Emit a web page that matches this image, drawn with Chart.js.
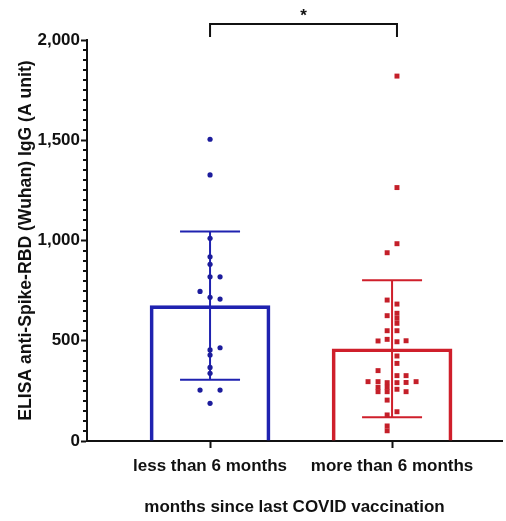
<!DOCTYPE html>
<html>
<head>
<meta charset="utf-8">
<script src="https://cdn.jsdelivr.net/npm/chart.js@4"></script>
<style>
html, body { margin: 0; padding: 0; background: #fff; }
#wrap { width: 506px; height: 521px; }
</style>
</head>
<body>
<div id="wrap"><canvas id="chart"></canvas></div>
<script>
const groupLabels = ['less than 6 months', 'more than 6 months']
const groupMeans = [675, 460]
const groupSD = [370, 342]
const groupColors = ['#1f22b0', '#cf1f2b']

// less than 6 months: value, jitter (x offset in category units)
const lessValues = [1505, 1327, 1011, 919, 881, 819, 819, 746, 717, 708, 465, 454, 429, 367, 338, 254, 254, 188]
const lessJitter = [0, 0, 0, 0, 0, 0, 0.055, -0.055, 0, 0.055, 0.055, 0, 0, 0, 0, -0.055, 0.055, 0]

// more than 6 months
const moreValues = [1820, 1264, 984, 939, 703, 683, 625, 637, 612, 587, 550, 550, 499, 507, 495, 500, 424, 387, 351, 326, 326,
    296, 296, 291, 291, 292, 296, 268, 268, 258, 246, 246, 246, 204, 130, 146, 75, 51]
const moreJitter = [0.027, 0.027, 0.027, -0.027, -0.027, 0.027, -0.027, 0.027, 0.027, 0.027, -0.027, 0.027, -0.077, -0.027, 0.027, 0.077, 0.027, 0.027, -0.077, 0.027, 0.077,
    -0.132, -0.077, -0.027, 0.027, 0.077, 0.132, -0.077, -0.027, 0.027, 0.077, -0.077, -0.027, -0.027, -0.027, 0.027, -0.027, -0.027]

const yTicks = [0, 500, 1000, 1500, 2000]
const minorStep = 50
const significance = '*'
const bracketX = [0, 1.027]
const bracketY = [2015, 2080]

const fontFam = '"Liberation Sans", Arial, sans-serif'
const toPoints = (vals, jit, g) => vals.map((v, i) => ({ x: g + jit[i], y: v }))

// error bars (mean +/- SD) drawn right after the bars
const errorBars = {
    id: 'errorBars',
    afterDatasetDraw(chart, args) {
        if (args.index !== 0) return
        const ctx = chart.ctx, xs = chart.scales.x, ys = chart.scales.y
        const capHalf = 30
        ctx.save()
        ctx.lineWidth = 2
        groupMeans.forEach((m, i) => {
            const x = xs.getPixelForValue(i)
            const top = ys.getPixelForValue(m + groupSD[i])
            const bot = ys.getPixelForValue(m - groupSD[i])
            ctx.strokeStyle = groupColors[i]
            ctx.beginPath()
            ctx.moveTo(x, top); ctx.lineTo(x, bot)
            ctx.moveTo(x - capHalf, top); ctx.lineTo(x + capHalf, top)
            ctx.moveTo(x - capHalf, bot); ctx.lineTo(x + capHalf, bot)
            ctx.stroke()
        })
        ctx.restore()
    }
}

// minor y ticks and significance bracket
const extras = {
    id: 'extras',
    afterDraw(chart) {
        const ctx = chart.ctx, xs = chart.scales.x, ys = chart.scales.y
        ctx.save()
        ctx.strokeStyle = '#111'
        ctx.lineWidth = 2
        ctx.beginPath()
        for (let v = 0; v <= ys.max; v += minorStep) {
            if (v % 500 === 0) continue
            const y = Math.round(ys.getPixelForValue(v))
            ctx.moveTo(ys.right - 4, y); ctx.lineTo(ys.right, y)
        }
        ctx.stroke()

        const x1 = xs.getPixelForValue(bracketX[0]), x2 = xs.getPixelForValue(bracketX[1])
        const yb = ys.getPixelForValue(bracketY[0]), yt = ys.getPixelForValue(bracketY[1])
        ctx.beginPath()
        ctx.moveTo(x1, yb); ctx.lineTo(x1, yt); ctx.lineTo(x2, yt); ctx.lineTo(x2, yb)
        ctx.stroke()
        ctx.fillStyle = '#111'
        ctx.font = 'bold 17px ' + fontFam
        ctx.textAlign = 'center'
        ctx.textBaseline = 'alphabetic'
        ctx.fillText(significance, (x1 + x2) / 2, yt - 3)
        ctx.restore()
    }
}

new Chart(document.getElementById('chart'), {
    type: 'bar',
    data: {
        datasets: [
            {
                type: 'bar',
                data: groupMeans.map((m, i) => ({ x: i, y: m })),
                borderColor: groupColors,
                backgroundColor: 'rgba(0,0,0,0)',
                borderWidth: 3,
                barThickness: 120,
                order: 3
            },
            {
                type: 'scatter',
                data: toPoints(lessValues, lessJitter, 0),
                pointStyle: 'circle',
                pointRadius: 2.6,
                pointBorderWidth: 0,
                backgroundColor: '#1c1c9c',
                order: 1
            },
            {
                type: 'scatter',
                data: toPoints(moreValues, moreJitter, 1),
                pointStyle: 'rect',
                pointRadius: 3.5,
                pointBorderWidth: 0,
                backgroundColor: '#c41f29',
                order: 1
            }
        ]
    },
    options: {
        responsive: true,
        maintainAspectRatio: false,
        animation: false,
        layout: { padding: { left: 12, top: 40, right: 0, bottom: 0 } },
        plugins: { legend: { display: false }, tooltip: { enabled: false } },
        scales: {
            x: {
                type: 'linear',
                offset: false,
                min: -0.676,
                max: 1.604,
                afterBuildTicks: s => { s.ticks = groupLabels.map((l, i) => ({ value: i })) },
                afterFit: s => { s.height = 80 },
                grid: { offset: false, drawOnChartArea: false, tickLength: 7, color: '#111', tickWidth: 2 },
                border: { color: '#111', width: 2 },
                ticks: {
                    callback: v => groupLabels[v] ?? '',
                    color: '#111',
                    font: { family: fontFam, size: 17, weight: 'bold' },
                    padding: 8,
                    maxRotation: 0,
                    autoSkip: false
                },
                title: {
                    display: true,
                    text: 'months since last COVID vaccination',
                    color: '#111',
                    font: { family: fontFam, size: 17, weight: 'bold' },
                    padding: { top: 10, bottom: 3 }
                }
            },
            y: {
                min: 0,
                max: 2000,
                afterBuildTicks: s => { s.ticks = yTicks.map(v => ({ value: v })) },
                afterFit: s => { s.width = 75 },
                grid: { drawOnChartArea: false, tickLength: 6, color: '#111', tickWidth: 2 },
                border: { color: '#111', width: 2 },
                ticks: {
                    callback: v => v.toLocaleString('en-US'),
                    color: '#111',
                    font: { family: fontFam, size: 17, weight: 'bold' },
                    padding: 1
                },
                title: {
                    display: true,
                    text: 'ELISA anti-Spike-RBD (Wuhan) IgG (A unit)',
                    color: '#111',
                    font: { family: fontFam, size: 17.6, weight: 'bold' },
                    padding: 4
                }
            }
        }
    },
    plugins: [errorBars, extras]
})
</script>
</body>
</html>
